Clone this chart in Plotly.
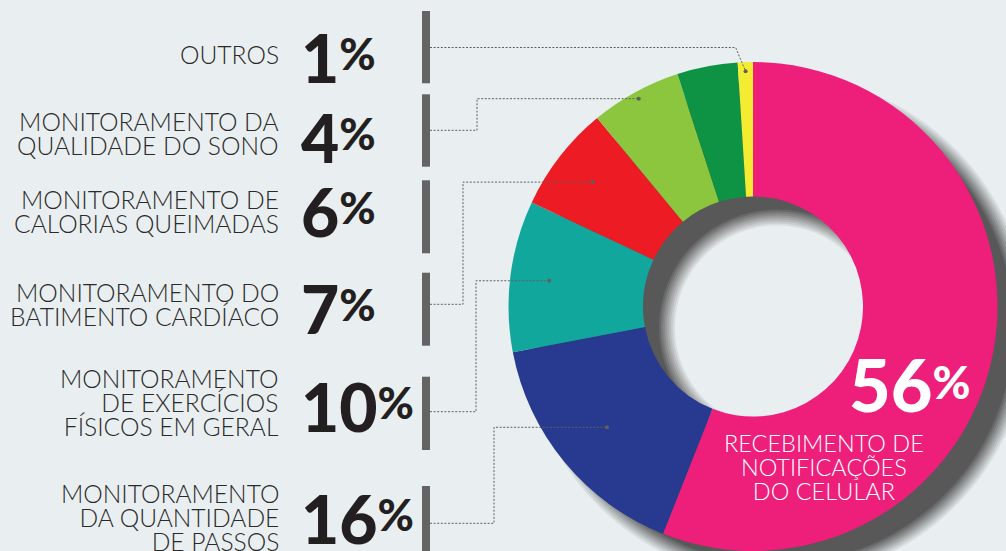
import math
import plotly.graph_objects as go

W, H = 1006, 551
BG = "#E9EFF1"
TEXT = "#2B2A29"
PCT = "#231F20"
BAR = "#646464"
LEADER = "#5F5F5F"

# ---------------- data ----------------
categories = [
    "Recebimento de notificações do celular",
    "Monitoramento da quantidade de passos",
    "Monitoramento de exercícios físicos em geral",
    "Monitoramento do batimento cardíaco",
    "Monitoramento de calorias queimadas",
    "Monitoramento da qualidade do sono",
    "Outros",
]
values = [56, 16, 10, 7, 6, 4, 1]
colors = ["#ED1F7A", "#283A8F", "#12A79C", "#ED1C24", "#8CC63F", "#0E9345", "#F3EC30"]

# left column rows (top to bottom) -> index into categories
row_category = [6, 5, 4, 3, 2, 1]
row_lines = [
    ["OUTROS"],
    ["MONITORAMENTO DA", "QUALIDADE DO SONO"],
    ["MONITORAMENTO DE", "CALORIAS QUEIMADAS"],
    ["MONITORAMENTO DO", "BATIMENTO CARDÍACO"],
    ["MONITORAMENTO", "DE EXERCÍCIOS", "FÍSICOS EM GERAL"],
    ["MONITORAMENTO", "DA QUANTIDADE", "DE PASSOS"],
]
main_lines = ["RECEBIMENTO DE", "NOTIFICAÇÕES", "DO CELULAR"]

# ---------------- layout geometry (pixels, y down) ----------------
CX, CY, R = 753.0, 306.5, 244.5
HOLE = 0.45
SH_DX, SH_DY = 24, 21

row_label_y = [55, 133, 211.2, 304.5, 402.4, 517.3]
row_pct_y = [59.7, 139.5, 213.7, 310, 408, 520]
row_bar = [(11, 83.3), (94.3, 166.7), (180.3, 253.3), (272.7, 345.7),
           (376.7, 450), (486, 570)]
# (row, slice, start_y, elbow_x, radius fraction)
connectors = [(0, 6, 47.5, None, 0.963), (1, 4, 130.3, 477, 0.97),
              (3, 3, 304.3, 463, 0.83), (4, 2, 411.7, 476, 0.84),
              (5, 1, 523.3, 494, 0.775)]

LINE_PITCH = 24.2           # px between text lines
BASE = LINE_PITCH / 1.3     # plotly line spacing is 1.3em of base font
LABEL_PX = 24.6


def px(x):
    return x / W


def py(y):
    return 1 - y / H


total = sum(values)
starts = [sum(values[:i]) / total * 360 for i in range(len(values))]
mids = [starts[i] + values[i] / total * 180 for i in range(len(values))]


def slice_point(i, frac):
    a = math.radians(mids[i])
    r = R * frac
    return CX + r * math.sin(a), CY - r * math.cos(a)


fig = go.Figure()
fig.add_trace(go.Pie(
    labels=categories, values=values, sort=False, direction="clockwise",
    rotation=0, hole=HOLE, textinfo="none",
    marker=dict(colors=colors, line=dict(width=0)),
    domain=dict(x=[px(CX - R), px(CX + R)], y=[0, 2 * R / H]),
    showlegend=False,
))

shapes = []


def circle(cx, cy, r, color, layer="below"):
    return dict(type="circle", xref="paper", yref="paper", layer=layer,
                x0=px(cx - r), x1=px(cx + r), y0=py(cy + r), y1=py(cy - r),
                fillcolor=color, line=dict(width=0))


# drop shadow (blurred by stacking)
scx, scy = CX + SH_DX, CY + SH_DY
steps = list(range(8, -9, -2))
n = len(steps)
for k, d in enumerate(steps):
    a = 1.0 / (n - k)
    shapes.append(circle(scx, scy, R + d, f"rgba(88,88,88,{a:.3f})"))
for k, d in enumerate(steps):
    a = 1.0 / (n - k)
    shapes.append(circle(scx, scy, R * HOLE + d, f"rgba(233,239,241,{a:.3f})"))

# vertical bars
for (y0, y1) in row_bar:
    shapes.append(dict(type="rect", xref="paper", yref="paper", layer="below",
                       x0=px(422), x1=px(430), y0=py(y1), y1=py(y0),
                       fillcolor=BAR, line=dict(width=0)))

# leader lines
for (row, sl, sy, ex, frac) in connectors:
    tx, ty = slice_point(sl, frac)
    if ex is None:
        pts = [(430, sy), (tx - 10, sy), (tx, ty)]
    else:
        pts = [(430, sy), (ex, sy), (ex, ty), (tx, ty)]
    path = "M " + " L ".join(f"{px(x):.5f},{py(y):.5f}" for x, y in pts)
    shapes.append(dict(type="path", xref="paper", yref="paper", layer="above",
                       path=path, line=dict(color=LEADER, width=1, dash="2px,1.6px")))
    shapes.append(circle(tx, ty, 2.0, LEADER, layer="above"))


def block(lines, size):
    return "<br>".join(f"<span style='font-size:{size}px'>{t}</span>" for t in lines)


annotations = []
for lines, y in zip(row_lines, row_label_y):
    annotations.append(dict(text=block(lines, LABEL_PX), xref="paper", yref="paper",
                            x=px(281), y=py(y), xanchor="right", yanchor="middle",
                            align="right", showarrow=False,
                            font=dict(family="Lato", size=BASE, color=TEXT, weight=300)))

for ci, y in zip(row_category, row_pct_y):
    txt = (f"<span style='font-size:66px'>{values[ci]}</span>"
           f"<sup><span style='font-size:44px'>%</span></sup>")
    annotations.append(dict(text=txt, xref="paper", yref="paper",
                            x=px(299), y=py(y - 2), xanchor="left", yanchor="middle",
                            showarrow=False,
                            font=dict(family="Lato", size=32, color=PCT, weight=900)))

# main slice label
txt = (f"<span style='font-size:72px'>{values[0]}</span>"
       f"<sup><span style='font-size:46px'>%</span></sup>")
annotations.append(dict(text=txt, xref="paper", yref="paper",
                        x=px(910), y=py(384), xanchor="center", yanchor="middle",
                        showarrow=False,
                        font=dict(family="Lato", size=32, color="white", weight=900)))
annotations.append(dict(text=block(main_lines, 23.5), xref="paper", yref="paper",
                        x=px(824), y=py(467.1), xanchor="center", yanchor="middle",
                        align="center", showarrow=False,
                        font=dict(family="Lato", size=BASE, color="white", weight=300)))

fig.update_layout(
    width=W, height=H, margin=dict(l=0, r=0, t=0, b=0),
    paper_bgcolor=BG, plot_bgcolor=BG, showlegend=False,
    shapes=shapes, annotations=annotations,
)
fig.write_html("out.html", config={"displayModeBar": False},
               post_script="document.body.style.margin='0';")
